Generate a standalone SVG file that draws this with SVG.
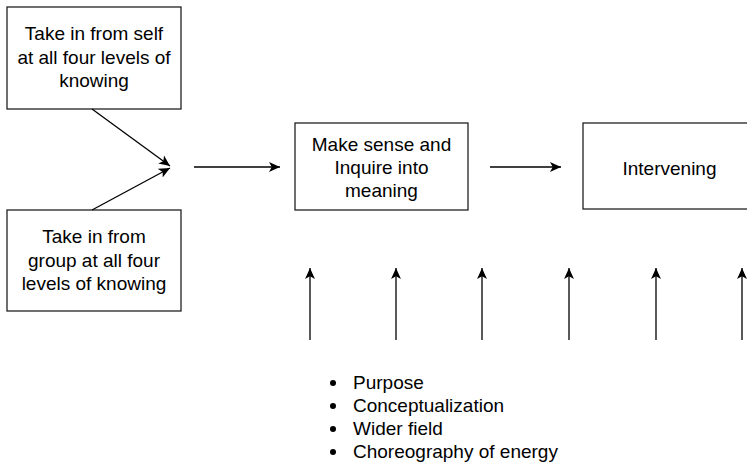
<svg xmlns="http://www.w3.org/2000/svg" width="747" height="465" viewBox="0 0 747 465">
<style>
.box{fill:#fff;stroke:#222;stroke-width:1.3}
.t{font-family:"Liberation Sans",Arial,sans-serif;font-size:19px;fill:#000;text-anchor:middle}
.l{font-family:"Liberation Sans",Arial,sans-serif;font-size:19px;fill:#000}
.c{fill:none;stroke:#000;stroke-width:1.3}
</style>
<defs>
<marker id="ah" viewBox="0 0 10 10" refX="10" refY="5" markerWidth="11" markerHeight="11" markerUnits="userSpaceOnUse" orient="auto">
<path d="M0,0.5 L10,5 L0,9.5 L2.5,5 z" fill="#000"/>
</marker>
</defs>
<rect width="747" height="465" fill="#fff"/>
<g id="self">
<rect class="box" x="7" y="7" width="174" height="102"/>
<text class="t" x="94" y="40">Take in from self</text>
<text class="t" x="94" y="64">at all four levels of</text>
<text class="t" x="94" y="87">knowing</text>
</g>
<g id="group">
<rect class="box" x="7" y="210" width="174" height="101"/>
<text class="t" x="94" y="243">Take in from</text>
<text class="t" x="94" y="266.5">group at all four</text>
<text class="t" x="94" y="290">levels of knowing</text>
</g>
<g id="sense">
<rect class="box" x="295" y="123" width="173" height="87"/>
<text class="t" x="381.5" y="150.5">Make sense and</text>
<text class="t" x="381.5" y="173.5">Inquire into</text>
<text class="t" x="381.5" y="196.5">meaning</text>
</g>
<g id="intervening">
<rect class="box" x="583" y="123" width="180" height="86"/>
<text class="t" x="669.5" y="175">Intervening</text>
</g>
<g id="list">
<circle cx="333" cy="383" r="3"/>
<circle cx="333" cy="406" r="3"/>
<circle cx="333" cy="429" r="3"/>
<circle cx="333" cy="452" r="3"/>
<text class="l" x="353" y="389">Purpose</text>
<text class="l" x="353" y="412">Conceptualization</text>
<text class="l" x="353" y="435">Wider field</text>
<text class="l" x="353" y="458">Choreography of energy</text>
</g>
<g id="connectors">
<line class="c" x1="92" y1="109" x2="170" y2="166" marker-end="url(#ah)"/>
<line class="c" x1="92" y1="210" x2="170" y2="168" marker-end="url(#ah)"/>
<line class="c" x1="194" y1="167" x2="280" y2="167" marker-end="url(#ah)"/>
<line class="c" x1="490" y1="167" x2="561" y2="167" marker-end="url(#ah)"/>
<line class="c" x1="310" y1="340" x2="310" y2="268" marker-end="url(#ah)"/>
<line class="c" x1="396" y1="340" x2="396" y2="268" marker-end="url(#ah)"/>
<line class="c" x1="482" y1="340" x2="482" y2="268" marker-end="url(#ah)"/>
<line class="c" x1="569" y1="340" x2="569" y2="268" marker-end="url(#ah)"/>
<line class="c" x1="656" y1="340" x2="656" y2="268" marker-end="url(#ah)"/>
<line class="c" x1="742" y1="340" x2="742" y2="268" marker-end="url(#ah)"/>
</g>
</svg>
